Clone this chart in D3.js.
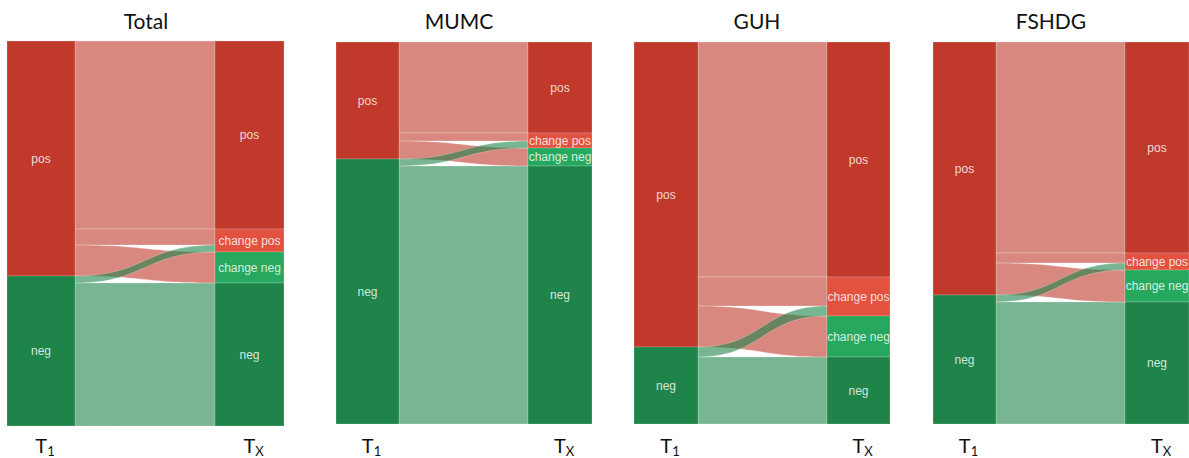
<!DOCTYPE html>
<html>
<head>
<meta charset="utf-8">
<script src="https://cdn.jsdelivr.net/npm/d3@7"></script>
<style>
  html, body { margin: 0; padding: 0; background: #fff; }
  svg { display: block; }
</style>
</head>
<body>
<svg id="chart" width="1189" height="458"></svg>
<script>
// ---------- data ----------
const panels = ["Total", "MUMC", "GUH", "FSHDG"];
const t1Nodes = ["pos", "neg"];
const txNodes = ["pos", "change pos", "change neg", "neg"];
const flowSources = ["pos", "pos", "neg", "pos", "neg"];
const flowTargets = ["pos", "change pos", "change pos", "change neg", "neg"];
const totalValues = [188, 16, 7, 31, 143];
const mumcValues  = [91, 8, 7, 18, 258];
const guhValues   = [235, 29, 10, 41, 67];
const fshdgValues = [211, 10, 7, 32, 122];
const panelValues = [totalValues, mumcValues, guhValues, fshdgValues];
const axisLabels = [["T", "1"], ["T", "X"]];

// ---------- layout ----------
const layout = [
  { l0: 7,   l1: 75,  r0: 215,  r1: 284,  top: 41, bottom: 426, tx: 146 },
  { l0: 336, l1: 399, r0: 528,  r1: 592,  top: 42, bottom: 424, tx: 459 },
  { l0: 634, l1: 698, r0: 827,  r1: 890,  top: 42, bottom: 424, tx: 757 },
  { l0: 933, l1: 996, r0: 1125, r1: 1189, top: 42, bottom: 424, tx: 1051 }
];
const nodeColor = {
  "pos": "#C0392B", "neg": "#1E8449",
  "change pos": "#E2523F", "change neg": "#26A95E"
};
const linkOpacity = 0.6;

const svg = d3.select("#chart");

panels.forEach((name, pi) => {
  const L = layout[pi];
  const vals = panelValues[pi];
  const total = d3.sum(vals);
  const y = d3.scaleLinear().domain([0, total]).range([L.top, L.bottom]);
  const g = svg.append("g");

  const leftTot = t1Nodes.map(n => d3.sum(vals.filter((v, i) => flowSources[i] === n)));
  const rightTot = txNodes.map(n => d3.sum(vals.filter((v, i) => flowTargets[i] === n)));
  const leftStart = d3.cumsum([0, ...leftTot]);
  const rightStart = d3.cumsum([0, ...rightTot]);

  const links = vals.map((v, i) => ({ i, v, s: flowSources[i], t: flowTargets[i] }));
  t1Nodes.forEach((n, k) => {
    let acc = leftStart[k];
    links.filter(l => l.s === n)
      .sort((a, b) => txNodes.indexOf(a.t) - txNodes.indexOf(b.t))
      .forEach(l => { l.sy = acc; acc += l.v; });
  });
  txNodes.forEach((n, k) => {
    let acc = rightStart[k];
    links.filter(l => l.t === n)
      .sort((a, b) => t1Nodes.indexOf(a.s) - t1Nodes.indexOf(b.s))
      .forEach(l => { l.ty = acc; acc += l.v; });
  });

  const x0 = L.l1, x1 = L.r0, xm = (x0 + x1) / 2;
  const bandPath = l => {
    const a0 = y(l.sy), a1 = y(l.sy + l.v), b0 = y(l.ty), b1 = y(l.ty + l.v);
    return `M${x0},${a0}C${xm},${a0} ${xm},${b0} ${x1},${b0}` +
           `L${x1},${b1}C${xm},${b1} ${xm},${a1} ${x0},${a1}Z`;
  };

  const order = links.slice().sort((a, b) => {
    const ca = a.s === a.t ? 0 : 1, cb = b.s === b.t ? 0 : 1;
    if (ca !== cb) return ca - cb;
    return (a.s === "neg") - (b.s === "neg");
  });
  g.selectAll("path.link").data(order).join("path")
    .attr("class", "link")
    .attr("d", bandPath)
    .attr("fill", d => nodeColor[d.s])
    .attr("fill-opacity", linkOpacity)
    .attr("stroke", "#fff")
    .attr("stroke-opacity", 0.3)
    .attr("stroke-width", 0.8);

  const leftNodes = t1Nodes.map((n, k) => ({ n, y0: leftStart[k], y1: leftStart[k + 1], x0: L.l0, x1: L.l1 }));
  const rightNodes = txNodes.map((n, k) => ({ n, y0: rightStart[k], y1: rightStart[k + 1], x0: L.r0, x1: L.r1 }));
  const nodes = leftNodes.concat(rightNodes);
  g.selectAll("rect.node").data(nodes).join("rect")
    .attr("class", "node")
    .attr("x", d => d.x0).attr("width", d => d.x1 - d.x0)
    .attr("y", d => y(d.y0)).attr("height", d => y(d.y1) - y(d.y0))
    .attr("fill", d => nodeColor[d.n])
    .attr("stroke", "#fff").attr("stroke-opacity", 0.25).attr("stroke-width", 0.8);

  g.selectAll("text.nlabel").data(nodes).join("text")
    .attr("class", "nlabel")
    .attr("x", d => (d.x0 + d.x1) / 2)
    .attr("y", d => (y(d.y0) + y(d.y1)) / 2)
    .attr("dy", "0.35em")
    .attr("text-anchor", "middle")
    .attr("font-family", "'Liberation Sans', Arial, sans-serif")
    .attr("font-size", 12)
    .attr("fill", "#fff")
    .attr("fill-opacity", 0.82)
    .text(d => d.n);

  g.append("text")
    .attr("x", L.tx).attr("y", 29)
    .attr("text-anchor", "middle")
    .attr("font-family", "Lato, 'Open Sans', sans-serif")
    .attr("font-size", 21)
    .attr("fill", "#111")
    .text(name);

  const axX = [(L.l0 + L.l1) / 2 + 4, (L.r0 + L.r1) / 2 + 4];
  axisLabels.forEach((lab, k) => {
    const t = g.append("text")
      .attr("x", axX[k]).attr("y", 453)
      .attr("text-anchor", "middle")
      .attr("font-family", "Lato, 'Open Sans', sans-serif")
      .attr("font-size", 20)
      .attr("fill", "#111");
    t.append("tspan").text(lab[0]);
    t.append("tspan").attr("font-size", 13).attr("dy", 3).text(lab[1]);
  });
});
</script>
</body>
</html>
